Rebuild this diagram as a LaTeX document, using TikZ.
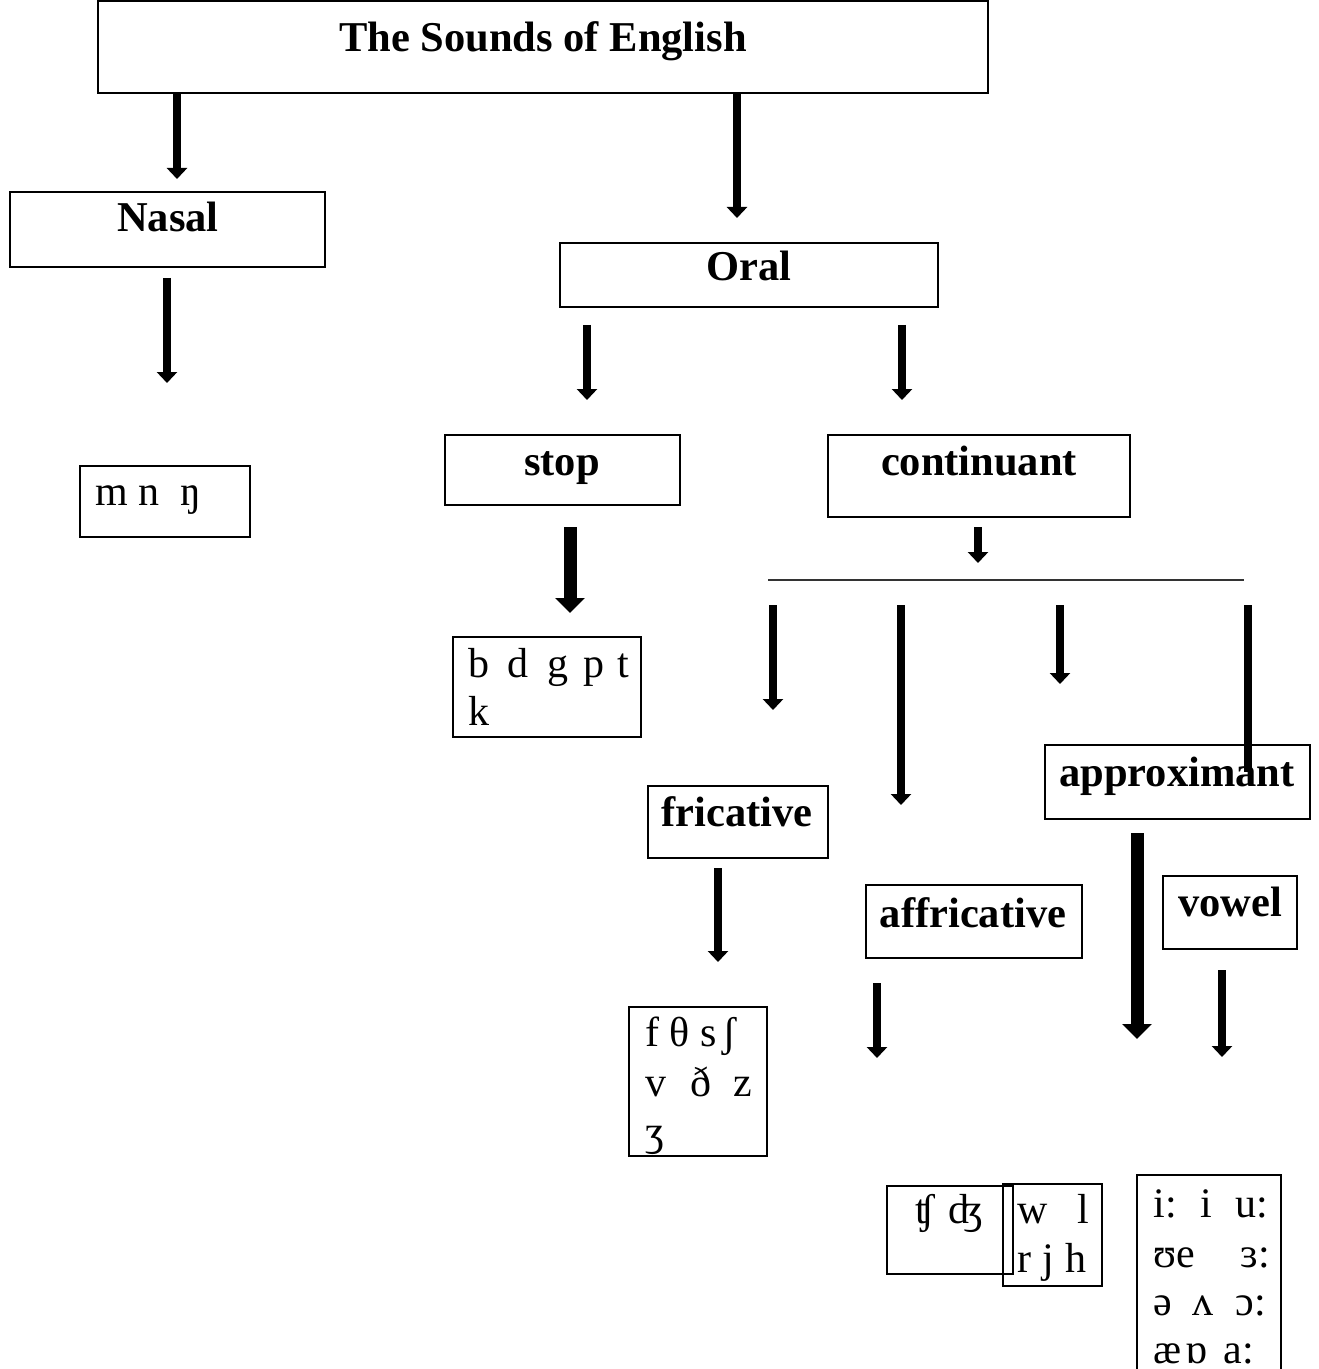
\documentclass[tikz,border=0pt]{standalone}
\usepackage{fontspec}
\setmainfont{Liberation Serif}
\usetikzlibrary{arrows.meta,fit}
\newcommand\gcell[2]{\makebox[#1pt][l]{#2}}

\begin{document}
\begin{tikzpicture}[x=0.5pt,y=-0.5pt,
  box/.style={draw, line width=1.3pt, inner sep=0pt},
  lbl/.style={anchor=base, inner sep=0pt, font=\fontsize{21.25}{25}\selectfont\bfseries},
  ipa/.style={anchor=base west, inner sep=0pt, font=\fontsize{21}{25}\selectfont},
  thin/.style={line width=4.25pt, -{Triangle[width=10pt,length=5.5pt]}},
  thick/.style={line width=6.5pt, -{Triangle[width=14.5pt,length=7.5pt]}},
  rule/.style={line width=0.9pt, draw=black!80}
]
\useasboundingbox (0,0) rectangle (1318,1369);

% ---- boxes ----
\node[box, fit={(98,1) (988,93)}]       (title) {};
\node[box, fit={(10,192) (325,267)}]    (nasal) {};
\node[box, fit={(560,243) (938,307)}]   (oral) {};
\node[box, fit={(445,435) (680,505)}]   (stop) {};
\node[box, fit={(828,435) (1130,517)}]  (cont) {};
\node[box, fit={(80,466) (250,537)}]    (nasalset) {};
\node[box, fit={(453,637) (641,737)}]   (stopset) {};
\node[box, fit={(648,786) (828,858)}]   (fric) {};
\node[box, fit={(1045,745) (1310,819)}] (approx) {};
\node[box, fit={(866,885) (1082,958)}]  (affr) {};
\node[box, fit={(1163,876) (1297,949)}] (vowel) {};
\node[box, fit={(629,1007) (767,1156)}] (fricset) {};
\node[box, fit={(887,1186) (1013,1274)}] (affrset) {};
\node[box, fit={(1003,1184) (1102,1286)}] (approxset) {};
\node[box, fit={(1137,1175) (1281,1378)}] (vowelset) {};

% ---- headings ----
\node[lbl] (title-t)  at (543,52)  {The Sounds of English};
\node[lbl] (nasal-t)  at (168,232) {Nasal};
\node[lbl] (oral-t)   at (749,281) {Oral};
\node[lbl] (stop-t)   at (562,475) {stop};
\node[lbl] (cont-t)   at (979,475) {continuant};
\node[lbl] (fric-t)   at (737,826) {fricative};
\node[lbl] (approx-t) at (1177,786) {approximant};
\node[lbl] (affr-t)   at (973,927) {affricative};
\node[lbl] (vowel-t)  at (1230,916) {vowel};

% ---- sound sets ----
\node[ipa] (nasal-1) at (95,505)  {\gcell{21.5}{m}\gcell{21}{n}ŋ};
\node[ipa] (stop-1)  at (468,677) {\gcell{19.5}{b}\gcell{20}{d}\gcell{18}{g}\gcell{17}{p}t};
\node[ipa] (stop-2)  at (468,725) {k};
\node[ipa] (fric-1)  at (645,1046) {\gcell{12}{f}\gcell{15.5}{θ}\gcell{11}{s}ʃ};
\node[ipa] (fric-2)  at (645,1096) {\gcell{22.5}{v}\gcell{21.5}{ð}z};
\node[ipa] (fric-3)  at (645,1145) {ʒ};
\node[ipa] (affr-1)  at (915,1223) {\gcell{16.5}{ʧ}ʤ};
\node[ipa] (appr-1)  at (1017,1223) {\gcell{30}{w}l};
\node[ipa] (appr-2)  at (1017,1272) {\gcell{12.5}{r}\gcell{11.5}{j}h};
\node[ipa] (vow-1)   at (1153,1217) {\gcell{23.5}{i:}\gcell{17.5}{i}u:};
\node[ipa] (vow-2)   at (1153,1267) {\gcell{43.5}{ʊe}ɜ:};
\node[ipa] (vow-3)   at (1153,1315) {\gcell{19.5}{ə}\gcell{21.5}{ʌ}ɔ:};
\node[ipa] (vow-4)   at (1153,1363) {\gcell{16}{æ}\gcell{19}{ɒ}a:};

% ---- arrow end points ----
\coordinate (a1s) at (177,94);   \coordinate (a1e) at (177,179);
\coordinate (a2s) at (737,94);   \coordinate (a2e) at (737,218);
\coordinate (a3s) at (167,278);  \coordinate (a3e) at (167,383);
\coordinate (a4s) at (587,325);  \coordinate (a4e) at (587,400);
\coordinate (a5s) at (902,325);  \coordinate (a5e) at (902,400);
\coordinate (a6s) at (978,527);  \coordinate (a6e) at (978,563);
\coordinate (a7s) at (570,527);  \coordinate (a7e) at (570,613);
\coordinate (a8s) at (773,605);  \coordinate (a8e) at (773,710);
\coordinate (a9s) at (901,605);  \coordinate (a9e) at (901,805);
\coordinate (a10s) at (1060,605); \coordinate (a10e) at (1060,684);
\coordinate (a11s) at (1248,605); \coordinate (a11e) at (1248,772);
\coordinate (a12s) at (718,868);  \coordinate (a12e) at (718,962);
\coordinate (a13s) at (877,983);  \coordinate (a13e) at (877,1058);
\coordinate (a14s) at (1137,833); \coordinate (a14e) at (1137,1039);
\coordinate (a15s) at (1222,970); \coordinate (a15e) at (1222,1057);
\coordinate (ruleL) at (768,580); \coordinate (ruleR) at (1244,580);

% ---- connectors ----
\draw[thin]  (a1s) -- (a1e);
\draw[thin]  (a2s) -- (a2e);
\draw[thin]  (a3s) -- (a3e);
\draw[thin]  (a4s) -- (a4e);
\draw[thin]  (a5s) -- (a5e);
\draw[thin]  (a6s) -- (a6e);
\draw[thick] (a7s) -- (a7e);
\draw[rule]  (ruleL) -- (ruleR);
\draw[thin]  (a8s) -- (a8e);
\draw[thin]  (a9s) -- (a9e);
\draw[thin]  (a10s) -- (a10e);
\draw[line width=4.25pt] (a11s) -- (a11e);
\draw[thin]  (a12s) -- (a12e);
\draw[thin]  (a13s) -- (a13e);
\draw[thick] (a14s) -- (a14e);
\draw[thin]  (a15s) -- (a15e);
\end{tikzpicture}
\end{document}
